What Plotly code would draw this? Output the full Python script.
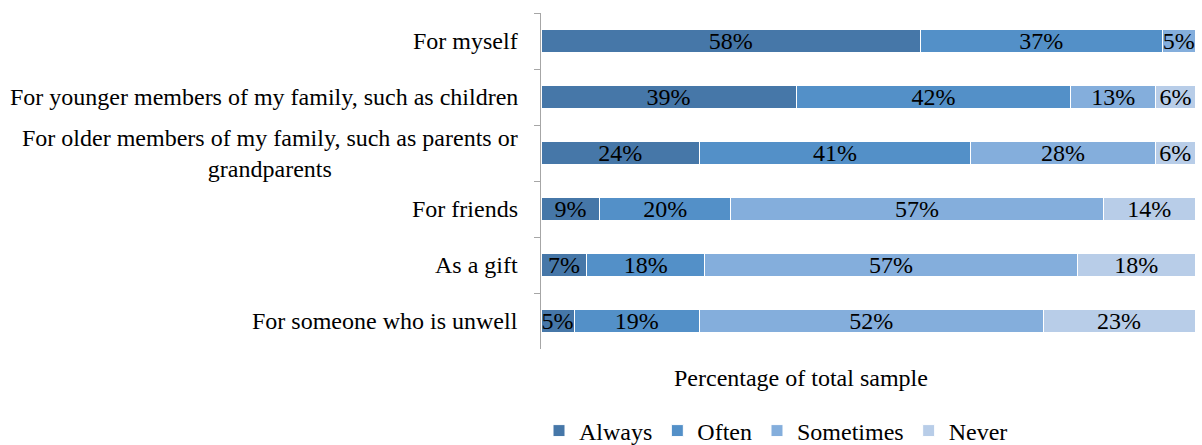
import plotly.graph_objects as go

categories = [
    "For myself",
    "For younger members of my family, such as children",
    "For older members of my family, such as parents or<br>grandparents",
    "For friends",
    "As a gift",
    "For someone who is unwell",
]
series_names = ["Always", "Often", "Sometimes", "Never"]
always = [58, 39, 24, 9, 7, 5]
often = [37, 42, 41, 20, 18, 19]
sometimes = [5, 13, 28, 57, 57, 52]
never = [0, 6, 6, 14, 18, 23]
colors = ["#4677A8", "#5390C8", "#84AEDC", "#B8CDE8"]
x_title = "Percentage of total sample"

FONT = "Liberation Serif"
FS = 24

W, H = 1202, 445
L, R, T, B = 541, 7, 13, 96
plot_w = W - L - R
plot_h = H - T - B

fig = go.Figure()
for name, vals, col in zip(series_names, [always, often, sometimes, never], colors):
    fig.add_trace(go.Bar(
        y=categories, x=vals, name=name, orientation="h",
        marker=dict(color=col, line=dict(color="white", width=1)),
        text=[f"{v}%" if v > 0 else "" for v in vals],
        textposition="inside", insidetextanchor="middle",
        textfont=dict(family=FONT, size=FS, color="black"),
        constraintext="none", hoverinfo="skip",
    ))

# category labels (center-aligned multi-line like the original)
annotations = []
for c in categories:
    annotations.append(dict(
        x=0, xref="paper", y=c, yref="y", xanchor="right", yanchor="middle",
        xshift=-21, text=c, showarrow=False, align="center",
        font=dict(family=FONT, size=FS, color="black"),
    ))
annotations.append(dict(
    x=(801 - L) / plot_w, xref="paper", y=0, yref="paper", yanchor="middle",
    yshift=-29, text=x_title, showarrow=False,
    font=dict(family=FONT, size=FS, color="black"),
))

fig.update_layout(
    width=W, height=H,
    margin=dict(l=L, r=R, t=T, b=B, pad=0, autoexpand=False),
    barmode="stack", barnorm="percent", bargap=0.59,
    plot_bgcolor="white", paper_bgcolor="white",
    font=dict(family=FONT, size=FS, color="black"),
    uniformtext=dict(minsize=FS, mode="show"),
    showlegend=True,
    legend=dict(orientation="h", x=(776 - L) / plot_w, xanchor="center",
                y=-82 / plot_h, yanchor="middle",
                font=dict(family=FONT, size=FS, color="black"),
                itemwidth=30, traceorder="normal", tracegroupgap=0),
    annotations=annotations,
)
fig.update_xaxes(range=[0, 100], showticklabels=False, showgrid=False,
                 zeroline=False, showline=False, ticks="", automargin=False)
fig.update_yaxes(autorange="reversed", showticklabels=False, showgrid=False,
                 zeroline=False, showline=True, linecolor="#A6A6A6", linewidth=1,
                 ticks="outside", ticklen=6, tickcolor="#A6A6A6", tickson="boundaries",
                 automargin=False)

fig.write_html(
    "out.html",
    config={"displayModeBar": False},
    post_script="document.body.style.margin='0';document.body.style.overflow='hidden';",
)
